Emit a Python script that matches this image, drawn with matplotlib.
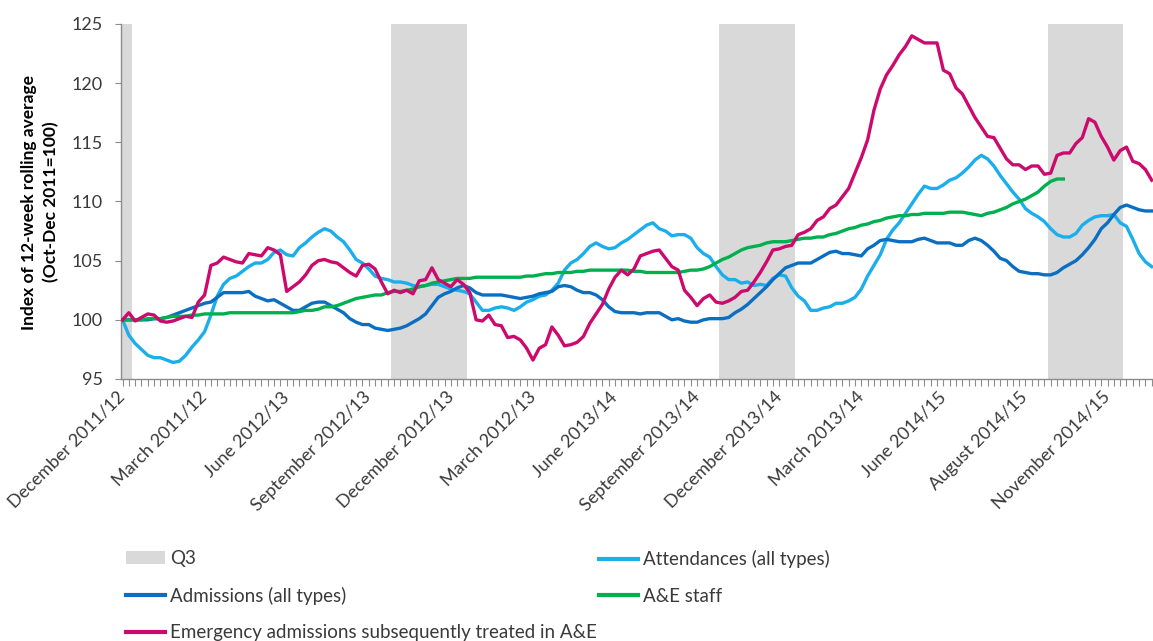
import numpy as np
import matplotlib.pyplot as plt
from matplotlib.patches import Patch
from matplotlib.lines import Line2D

plt.rcParams['font.family'] = ['Lato', 'DejaVu Sans']

# Weekly index values (12-week rolling average, Oct-Dec 2011 = 100)
attendances = [
    100.0, 98.7, 98.0, 97.5, 97.0, 96.8, 96.8, 96.6, 96.4, 96.5,
    97.0, 97.7, 98.3, 99.0, 100.4, 102.0, 103.0, 103.5, 103.7, 104.1,
    104.5, 104.8, 104.8, 105.1, 105.7, 105.9, 105.5, 105.4, 106.1, 106.5,
    107.0, 107.4, 107.7, 107.5, 107.0, 106.6, 105.9, 105.1, 104.8, 104.3,
    103.7, 103.5, 103.4, 103.2, 103.2, 103.1, 102.9, 102.8, 102.9, 103.0,
    103.0, 102.8, 102.6, 102.5, 102.4, 102.2, 101.5, 100.8, 100.8, 101.0,
    101.1, 101.0, 100.8, 101.1, 101.5, 101.7, 102.0, 102.1, 102.5, 103.1,
    104.2, 104.8, 105.1, 105.6, 106.2, 106.5, 106.2, 106.0, 106.1, 106.5,
    106.8, 107.2, 107.6, 108.0, 108.2, 107.7, 107.5, 107.1, 107.2, 107.2,
    106.9, 106.1, 105.6, 105.3, 104.5, 103.8, 103.4, 103.4, 103.1, 103.2,
    102.9, 103.0, 102.9, 103.5, 103.8, 103.7, 102.7, 102.0, 101.6, 100.8,
    100.8, 101.0, 101.1, 101.4, 101.4, 101.6, 101.9, 102.6, 103.7, 104.6,
    105.5, 106.8, 107.6, 108.2, 109.0, 109.8, 110.6, 111.3, 111.1, 111.1,
    111.4, 111.8, 112.0, 112.4, 112.9, 113.5, 113.9, 113.6, 113.0, 112.2,
    111.5, 110.8, 110.2, 109.4, 109.0, 108.7, 108.3, 107.7, 107.2, 107.0,
    107.0, 107.3, 108.0, 108.4, 108.7, 108.8, 108.8, 108.9, 108.2, 107.9,
    106.8, 105.6, 104.9, 104.5,
]

admissions = [
    100.0, 100.0, 100.0, 100.0, 100.0, 100.1, 100.1, 100.2, 100.4, 100.6,
    100.8, 101.0, 101.2, 101.4, 101.5, 101.9, 102.3, 102.3, 102.3, 102.3,
    102.4, 102.0, 101.8, 101.6, 101.7, 101.4, 101.1, 100.8, 100.8, 101.1,
    101.4, 101.5, 101.5, 101.2, 100.9, 100.6, 100.1, 99.8, 99.6, 99.6,
    99.3, 99.2, 99.1, 99.2, 99.3, 99.5, 99.8, 100.1, 100.5, 101.2,
    101.9, 102.2, 102.4, 102.7, 102.9, 102.7, 102.3, 102.1, 102.1, 102.1,
    102.1, 102.0, 101.9, 101.8, 101.9, 102.0, 102.2, 102.3, 102.4, 102.8,
    102.9, 102.8, 102.5, 102.3, 102.3, 102.1, 101.7, 101.1, 100.7, 100.6,
    100.6, 100.6, 100.5, 100.6, 100.6, 100.6, 100.3, 100.0, 100.1, 99.9,
    99.8, 99.8, 100.0, 100.1, 100.1, 100.1, 100.2, 100.6, 100.9, 101.3,
    101.8, 102.3, 102.8, 103.4, 103.9, 104.4, 104.6, 104.8, 104.8, 104.8,
    105.1, 105.4, 105.7, 105.8, 105.6, 105.6, 105.5, 105.4, 106.0, 106.3,
    106.7, 106.8, 106.7, 106.6, 106.6, 106.6, 106.8, 106.9, 106.7, 106.5,
    106.5, 106.5, 106.3, 106.3, 106.7, 106.9, 106.7, 106.3, 105.8, 105.2,
    105.0, 104.5, 104.1, 104.0, 103.9, 103.9, 103.8, 103.8, 104.0, 104.4,
    104.7, 105.0, 105.5, 106.1, 106.8, 107.7, 108.2, 108.9, 109.5, 109.7,
    109.5, 109.3, 109.2, 109.2,
]

ae_staff = [
    100.0, 100.0, 100.0, 100.0, 100.1, 100.1, 100.1, 100.2, 100.3, 100.3,
    100.3, 100.4, 100.4, 100.5, 100.5, 100.5, 100.5, 100.6, 100.6, 100.6,
    100.6, 100.6, 100.6, 100.6, 100.6, 100.6, 100.6, 100.6, 100.7, 100.8,
    100.8, 100.9, 101.1, 101.1, 101.2, 101.4, 101.6, 101.8, 101.9, 102.0,
    102.1, 102.1, 102.3, 102.4, 102.4, 102.5, 102.6, 102.8, 102.9, 103.1,
    103.2, 103.3, 103.4, 103.5, 103.5, 103.5, 103.6, 103.6, 103.6, 103.6,
    103.6, 103.6, 103.6, 103.6, 103.7, 103.7, 103.8, 103.9, 103.9, 104.0,
    104.0, 104.0, 104.1, 104.1, 104.2, 104.2, 104.2, 104.2, 104.2, 104.2,
    104.2, 104.1, 104.1, 104.0, 104.0, 104.0, 104.0, 104.0, 104.0, 104.1,
    104.2, 104.2, 104.3, 104.5, 104.8, 105.1, 105.3, 105.6, 105.9, 106.1,
    106.2, 106.3, 106.5, 106.6, 106.6, 106.6, 106.7, 106.8, 106.9, 106.9,
    107.0, 107.0, 107.2, 107.3, 107.5, 107.7, 107.8, 108.0, 108.1, 108.3,
    108.4, 108.6, 108.7, 108.8, 108.8, 108.9, 108.9, 109.0, 109.0, 109.0,
    109.0, 109.1, 109.1, 109.1, 109.0, 108.9, 108.8, 109.0, 109.1, 109.3,
    109.5, 109.8, 110.0, 110.2, 110.5, 110.8, 111.3, 111.7, 111.9, 111.9,
]

emergency = [
    100.0, 100.6, 99.9, 100.2, 100.5, 100.4, 99.9, 99.8, 99.9, 100.1,
    100.3, 100.2, 101.5, 102.1, 104.6, 104.8, 105.3, 105.1, 104.9, 104.8,
    105.6, 105.5, 105.4, 106.1, 105.9, 105.5, 102.4, 102.8, 103.2, 103.8,
    104.6, 105.0, 105.1, 104.9, 104.8, 104.4, 104.0, 103.7, 104.6, 104.7,
    104.3, 103.2, 102.2, 102.5, 102.3, 102.5, 102.2, 103.3, 103.4, 104.4,
    103.4, 103.1, 102.8, 103.4, 103.0, 102.3, 100.0, 99.9, 100.4, 99.6,
    99.5, 98.5, 98.6, 98.3, 97.6, 96.6, 97.6, 97.9, 99.4, 98.7,
    97.8, 97.9, 98.1, 98.6, 99.7, 100.5, 101.3, 102.6, 103.6, 104.2,
    103.8, 104.3, 105.4, 105.6, 105.8, 105.9, 105.2, 104.5, 104.2, 102.5,
    101.9, 101.2, 101.8, 102.1, 101.5, 101.4, 101.6, 101.9, 102.4, 102.5,
    103.2, 104.0, 104.9, 105.9, 106.0, 106.2, 106.3, 107.2, 107.4, 107.7,
    108.4, 108.7, 109.4, 109.7, 110.4, 111.1, 112.4, 113.7, 115.2, 117.7,
    119.5, 120.7, 121.5, 122.4, 123.1, 124.0, 123.7, 123.4, 123.4, 123.4,
    121.1, 120.8, 119.6, 119.1, 118.1, 117.1, 116.3, 115.5, 115.4, 114.5,
    113.6, 113.1, 113.1, 112.7, 113.0, 113.0, 112.3, 112.4, 113.9, 114.1,
    114.1, 114.9, 115.4, 117.0, 116.7, 115.5, 114.6, 113.5, 114.3, 114.6,
    113.4, 113.2, 112.7, 111.8,
]

# Q3 (Oct-Dec) weeks shown as shaded columns
q3_weeks = [0, 1] + list(range(43, 55)) + list(range(95, 107)) + list(range(147, 159))

tick_labels = ['December 2011/12', 'March 2011/12', 'June 2012/13', 'September 2012/13',
               'December 2012/13', 'March 2012/13', 'June 2013/14', 'September 2013/14',
               'December 2013/14', 'March 2013/14', 'June 2014/15', 'August 2014/15',
               'November 2014/15']
label_weeks = list(range(0, 157, 13))

c_att = '#1AAEEB'
c_adm = '#0A6FC2'
c_staff = '#00B04F'
c_emer = '#CC0A6E'
c_q3 = '#D9D9D9'
c_axis = '#8C8C8C'
c_text = '#3A3A3A'

W, H = 1153, 641
fig = plt.figure(figsize=(W / 100, H / 100), dpi=100)
ax = fig.add_axes([121 / W, 1 - 379 / H, (W - 121) / W, (379 - 24) / H])

ax.bar(q3_weeks, [125] * len(q3_weeks), width=1.0, color=c_q3, zorder=1)

lw = 2.4
ax.plot(np.arange(len(attendances)), attendances, color=c_att, lw=lw, zorder=3)
ax.plot(np.arange(len(admissions)), admissions, color=c_adm, lw=lw, zorder=4)
ax.plot(np.arange(len(ae_staff)), ae_staff, color=c_staff, lw=lw, zorder=5)
ax.plot(np.arange(len(emergency)), emergency, color=c_emer, lw=lw, zorder=6)

ax.set_xlim(-0.24, 163.2)
ax.set_ylim(95, 125)
ax.set_yticks(range(95, 126, 5))

for s in ['top', 'right']:
    ax.spines[s].set_visible(False)
for s in ['left', 'bottom']:
    ax.spines[s].set_color(c_axis)
    ax.spines[s].set_linewidth(1.0)
    ax.spines[s].set_zorder(2)

ax.tick_params(axis='y', direction='out', length=4.5, width=0.8, color=c_axis,
               labelsize=13, labelcolor=c_text, pad=8.5)
ax.set_xticks(label_weeks)
ax.set_xticks(np.arange(0, 164), minor=True)
ax.set_xticklabels(tick_labels, rotation=45, ha='right', va='center',
                   rotation_mode='anchor')
ax.tick_params(axis='x', which='both', direction='out', length=5, width=0.8,
               color=c_axis, labelsize=13, labelcolor=c_text, pad=6)

fig.text(40 / W, 1 - 202 / H, 'Index of 12-week rolling average\n(Oct-Dec 2011=100)',
         rotation=90, ha='center', va='center', fontsize=12.5, fontweight='bold',
         color='black', linespacing=1.4, multialignment='center')

fs = 13.5
h_q3 = Patch(facecolor=c_q3, edgecolor='none')
h_adm = Line2D([], [], color=c_adm, lw=3)
h_emer = Line2D([], [], color=c_emer, lw=3)
h_att = Line2D([], [], color=c_att, lw=3)
h_staff = Line2D([], [], color=c_staff, lw=3)

common = dict(frameon=False, fontsize=fs, handlelength=2.1, handletextpad=0.25,
              labelspacing=1.05, borderaxespad=0, borderpad=0, labelcolor=c_text)
leg1 = fig.legend([h_q3, h_adm, h_emer],
                  ['Q3', 'Admissions (all types)', 'Emergency admissions subsequently treated in A&E'],
                  loc='upper left', bbox_to_anchor=(126 / W, 1 - 550 / H), **common)
leg2 = fig.legend([h_att, h_staff], ['Attendances (all types)', 'A&E staff'],
                  loc='upper left', bbox_to_anchor=(599 / W, 1 - 550 / H), **common)

fig.savefig('out.png', dpi=100)
